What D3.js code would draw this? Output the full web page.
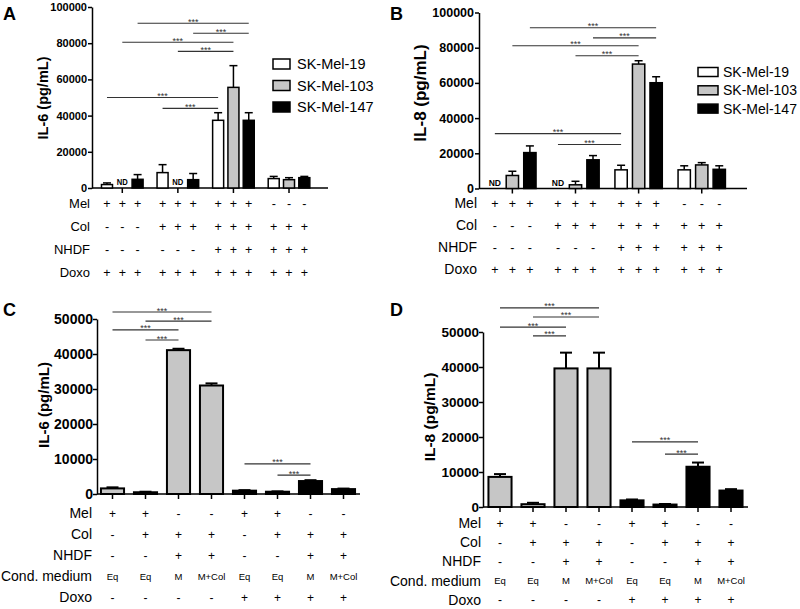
<!DOCTYPE html>
<html><head><meta charset="utf-8">
<script src="https://cdn.jsdelivr.net/npm/d3@7"></script>
<style>body{margin:0;background:#fff} svg{display:block} text{font-family:"Liberation Sans",Arial,Helvetica,sans-serif}</style>
</head><body><svg id="c" width="800" height="609"></svg>
<script>
// ---------- DATA ----------
const groupsAB = ["G1", "G2", "G3", "G4"];
const seriesNames = ["SK-Mel-19", "SK-Mel-103", "SK-Mel-147"];

// Panel A: IL-6 (null = ND)
const il6A_mel19  = [1900, 8500, 37400, 5200];
const il6A_mel103 = [null, null, 55600, 4600];
const il6A_mel147 = [4800, 4600, 37400, 5700];
const il6A_err19  = [900, 4400, 4200, 1200];
const il6A_err103 = [null, null, 12000, 1100];
const il6A_err147 = [2600, 3400, 4200, 700];

// Panel B: IL-8
const il8B_mel19  = [null, null, 10600, 10600];
const il8B_mel103 = [7400, 2100, 70700, 13400];
const il8B_mel147 = [20400, 16300, 60100, 10900];
const il8B_err19  = [null, null, 2600, 2300];
const il8B_err103 = [2400, 2000, 1900, 1300];
const il8B_err147 = [3800, 2400, 3400, 2000];

const ticksAB = [0, 20000, 40000, 60000, 80000, 100000];
const rowLabelsAB = ["Mel", "Col", "NHDF", "Doxo"];
const signsAB = [
  ["+","+","+","+","+","+","+","+","+","-","-","-"],
  ["-","-","-","+","+","+","+","+","+","+","+","+"],
  ["-","-","-","-","-","-","+","+","+","+","+","+"],
  ["+","+","+","+","+","+","+","+","+","+","+","+"]
];

// significance brackets: [group, series] -> [group, series], level in data units
const sigA = [
  {from:[0,2], to:[2,2], level:91000},
  {from:[1,2], to:[2,2], level:85500},
  {from:[0,1], to:[2,1], level:80500},
  {from:[1,1], to:[2,1], level:75500},
  {from:[0,0], to:[2,0], level:50000},
  {from:[1,0], to:[2,0], level:44000}
];
const sigB = [
  {from:[0,2], to:[2,2], level:91300},
  {from:[1,2], to:[2,2], level:85600},
  {from:[0,1], to:[2,1], level:81100},
  {from:[1,1], to:[2,1], level:75400},
  {from:[0,0], to:[2,0], level:31200},
  {from:[1,0], to:[2,0], level:25000}
];

// Panels C & D
const barsCD = ["b1","b2","b3","b4","b5","b6","b7","b8"];
const il6C = [1600, 500, 41100, 31000, 950, 650, 3700, 1400];
const il6C_err = [300, 150, 400, 600, 150, 100, 250, 150];
const il8D = [8600, 800, 39600, 39600, 1900, 700, 11500, 4700];
const il8D_err = [800, 400, 4500, 4500, 250, 150, 1200, 400];
const ticksCD = [0, 10000, 20000, 30000, 40000, 50000];
const rowLabelsCD = ["Mel", "Col", "NHDF", "Cond. medium", "Doxo"];
const signsCD = [
  ["+","+","-","-","+","+","-","-"],
  ["-","+","+","+","-","+","+","+"],
  ["-","-","+","+","-","-","+","+"],
  ["Eq","Eq","M","M+Col","Eq","Eq","M","M+Col"],
  ["-","-","-","-","+","+","+","+"]
];
const sigC = [
  {from:0, to:3, level:52000},
  {from:1, to:3, level:49400},
  {from:0, to:2, level:46900},
  {from:1, to:2, level:44000},
  {from:4, to:6, level:8600},
  {from:5, to:6, level:5400}
];
const sigD = [
  {from:0, to:3, level:56900},
  {from:1, to:3, level:54300},
  {from:0, to:2, level:51400},
  {from:1, to:2, level:48900},
  {from:4, to:6, level:18600},
  {from:5, to:6, level:15100}
];

// ---------- STYLE ----------
const seriesColor = d3.scaleOrdinal().domain(seriesNames).range(["#ffffff", "#c6c6c6", "#000000"]);
const doxoColor = d3.scaleOrdinal().domain(["-", "+"]).range(["#c6c6c6", "#000000"]);
const svg = d3.select("#c");

function yAxis(g, c, y) {
  const ax = g.append("g").attr("transform", `translate(${c.axisX},0)`)
    .call(d3.axisLeft(y).tickValues(c.ticks).tickFormat(d3.format("d")).tickSize(4).tickSizeOuter(0).tickPadding(c.tickPad));
  ax.selectAll("path,line").attr("stroke", "#000").attr("stroke-width", 1.5);
  ax.selectAll("text").attr("font-weight", "bold").attr("font-size", c.tickSize).attr("fill", "#000")
    .attr("font-family", "'Liberation Sans',Arial,sans-serif");
  g.append("text").attr("transform", `translate(${c.yLabelX},${c.yLabelY}) rotate(-90)`)
    .attr("text-anchor", "middle").attr("font-weight", "bold").attr("font-size", c.yLabelSize).text(c.yLabel);
  g.append("text").attr("x", c.letterX).attr("y", c.letterY).attr("font-weight", "bold").attr("font-size", 18).text(c.letter);
  g.append("line").attr("x1", c.axisX).attr("x2", c.axisEnd).attr("y1", y(0)).attr("y2", y(0))
    .attr("stroke", "#000").attr("stroke-width", 1.5);
}

function sigLines(g, list, xf, y, starSize) {
  list.forEach(s => {
    const x1 = xf(s.from), x2 = xf(s.to), yy = y(s.level);
    g.append("line").attr("x1", x1).attr("x2", x2).attr("y1", yy).attr("y2", yy).attr("stroke", "#333").attr("stroke-width", 1.1);
    g.append("text").attr("x", (x1 + x2) / 2).attr("y", yy + 1.5).attr("text-anchor", "middle")
      .attr("font-size", starSize).attr("fill", "#333").text("***");
  });
}

function table(g, c, labels, signs, xf, smallRow) {
  labels.forEach((lab, r) => {
    const yy = c.table.y0 + r * c.table.step;
    g.append("text").attr("x", c.table.labelX).attr("y", yy + c.table.size * 0.36).attr("text-anchor", "end")
      .attr("font-size", c.table.size).attr("fill", "#000").text(lab);
    signs[r].forEach((s, i) => {
      const small = r === smallRow;
      g.append("text").attr("x", xf(i)).attr("y", yy + (small ? 3.5 : 4.5)).attr("text-anchor", "middle")
        .attr("font-size", small ? c.table.smallSize : c.table.signSize).attr("fill", "#000").text(s);
    });
  });
}

function grouped(c) {
  const g = svg.append("g");
  const y = d3.scaleLinear().domain([0, 100000]).range(c.yRange);
  const x0 = d3.scaleBand().domain(groupsAB).range(c.groupRange).padding(0);
  const x1 = d3.scaleBand().domain(seriesNames).range([0, x0.bandwidth()]).paddingInner(c.pin).paddingOuter(c.pout);
  const cx = (gi, si) => x0(groupsAB[gi]) + x1(seriesNames[si]) + x1.bandwidth() / 2;

  yAxis(g, c, y);
  groupsAB.forEach(gr => {
    const xx = x0(gr) + x0.bandwidth() / 2;
    g.append("line").attr("x1", xx).attr("x2", xx).attr("y1", y(0)).attr("y2", y(0) + 5).attr("stroke", "#000").attr("stroke-width", 1.5);
  });

  seriesNames.forEach((s, si) => {
    c.values[si].forEach((v, gi) => {
      const xc = cx(gi, si), w = x1.bandwidth();
      if (v == null) {
        g.append("text").attr("x", xc).attr("y", y(0) - 3).attr("text-anchor", "middle").attr("font-weight", "bold")
          .attr("font-size", c.ndSize).attr("fill", "#000").attr("textLength", w).attr("lengthAdjust", "spacingAndGlyphs").text("ND");
        return;
      }
      const e = c.errors[si][gi];
      g.append("line").attr("x1", xc).attr("x2", xc).attr("y1", y(v)).attr("y2", y(v + e)).attr("stroke", "#000").attr("stroke-width", 1.5);
      g.append("line").attr("x1", xc - c.capW / 2).attr("x2", xc + c.capW / 2).attr("y1", y(v + e)).attr("y2", y(v + e)).attr("stroke", "#000").attr("stroke-width", 1.5);
      g.append("rect").attr("x", xc - w / 2).attr("y", y(v)).attr("width", w).attr("height", y(0) - y(v))
        .attr("fill", seriesColor(s)).attr("stroke", "#000").attr("stroke-width", 1.5);
    });
  });

  sigLines(g, c.sig, p => cx(p[0], p[1]), y, c.starSize);

  seriesNames.forEach((s, i) => {
    const yy = c.legend.y + i * c.legend.step;
    g.append("rect").attr("x", c.legend.x).attr("y", yy - c.legend.h / 2).attr("width", c.legend.w).attr("height", c.legend.h)
      .attr("fill", seriesColor(s)).attr("stroke", "#000").attr("stroke-width", 1.5);
    g.append("text").attr("x", c.legend.tx).attr("y", yy + c.legend.size * 0.36).attr("font-size", c.legend.size).text(s);
  });

  table(g, c, rowLabelsAB, signsAB, i => cx(Math.floor(i / 3), i % 3), -1);
}

function simple(c) {
  const g = svg.append("g");
  const y = d3.scaleLinear().domain([0, 50000]).range(c.yRange);
  const x = d3.scaleBand().domain(barsCD).range(c.xRange).paddingInner(0.3).paddingOuter(0.15);
  const cx = i => x(barsCD[i]) + x.bandwidth() / 2;
  yAxis(g, c, y);
  barsCD.forEach((b, i) => {
    const xx = cx(i);
    g.append("line").attr("x1", xx).attr("x2", xx).attr("y1", y(0)).attr("y2", y(0) + 5).attr("stroke", "#000").attr("stroke-width", 1.5);
  });
  c.values.forEach((v, i) => {
    const xc = cx(i), w = x.bandwidth(), e = c.errors[i];
    const fill = doxoColor(signsCD[4][i]);
    g.append("line").attr("x1", xc).attr("x2", xc).attr("y1", y(v)).attr("y2", y(v + e)).attr("stroke", "#000").attr("stroke-width", 2);
    g.append("line").attr("x1", xc - c.capW / 2).attr("x2", xc + c.capW / 2).attr("y1", y(v + e)).attr("y2", y(v + e)).attr("stroke", "#000").attr("stroke-width", 2);
    g.append("rect").attr("x", xc - w / 2).attr("y", y(v)).attr("width", w).attr("height", y(0) - y(v))
      .attr("fill", fill).attr("stroke", "#000").attr("stroke-width", 2);
  });
  sigLines(g, c.sig, cx, y, c.starSize);
  table(g, c, rowLabelsCD, signsCD, cx, 3);
}

grouped({
  letter: "A", letterX: 3, letterY: 20,
  yLabel: "IL-6 (pg/mL)", yLabelX: 48, yLabelY: 98, yLabelSize: 14.5,
  yRange: [188, 7], ticks: ticksAB, tickSize: 11, tickPad: 1,
  axisX: 92, axisEnd: 328, groupRange: [94.5, 316.8], pin: 0.28, pout: 0.456,
  values: [il6A_mel19, il6A_mel103, il6A_mel147], errors: [il6A_err19, il6A_err103, il6A_err147],
  capW: 8, ndSize: 9, sig: sigA, starSize: 9,
  legend: {x: 273, y: 64, step: 21.5, w: 17, h: 10, size: 14.5, tx: 297},
  table: {labelX: 90, y0: 203, step: 23, size: 13, signSize: 12.5, smallSize: 9.5}
});

grouped({
  letter: "B", letterX: 390, letterY: 20,
  yLabel: "IL-8 (pg/mL)", yLabelX: 426, yLabelY: 93, yLabelSize: 17,
  yRange: [188.5, 12.5], ticks: ticksAB, tickSize: 12.5, tickPad: 1,
  axisX: 479, axisEnd: 747, groupRange: [480.8, 733.3], pin: 0.297, pout: 0.45,
  values: [il8B_mel19, il8B_mel103, il8B_mel147], errors: [il8B_err19, il8B_err103, il8B_err147],
  capW: 8, ndSize: 9, sig: sigB, starSize: 9,
  legend: {x: 698, y: 72, step: 18.3, w: 20, h: 9, size: 14, tx: 723},
  table: {labelX: 477, y0: 203, step: 22, size: 14, signSize: 12.5, smallSize: 9.5}
});

simple({
  letter: "C", letterX: 3, letterY: 316,
  yLabel: "IL-6 (pg/mL)", yLabelX: 49, yLabelY: 405, yLabelSize: 15,
  yRange: [494, 319], ticks: ticksCD, tickSize: 14, tickPad: 0,
  axisX: 97, axisEnd: 360, xRange: [96, 360],
  values: il6C, errors: il6C_err, capW: 12, sig: sigC, starSize: 9,
  table: {labelX: 92, y0: 513, step: 21, size: 14, signSize: 12, smallSize: 9.5}
});

simple({
  letter: "D", letterX: 390, letterY: 316,
  yLabel: "IL-8 (pg/mL)", yLabelX: 435, yLabelY: 417, yLabelSize: 15.5,
  yRange: [507, 332], ticks: ticksCD, tickSize: 13.5, tickPad: 0,
  axisX: 483, axisEnd: 748, xRange: [483.5, 747.5],
  values: il8D, errors: il8D_err, capW: 12, sig: sigD, starSize: 9,
  table: {labelX: 481, y0: 523, step: 19.2, size: 14, signSize: 12, smallSize: 9.5}
});
</script></body></html>
